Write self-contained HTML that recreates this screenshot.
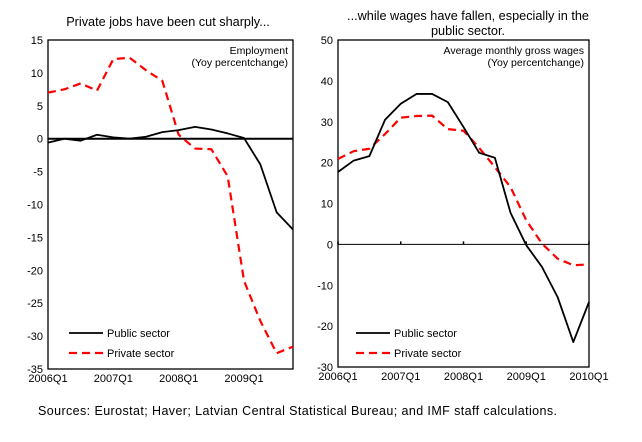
<!DOCTYPE html>
<html><head><meta charset="utf-8"><style>
body{margin:0;background:#fff;}
svg{display:block;font-family:"Liberation Sans",Arial,sans-serif;}
</style></head><body>
<svg id="c" width="642" height="442" viewBox="0 0 642 442">
<text x="168" y="26" text-anchor="middle" font-size="12.7">Private jobs have been cut sharply...</text>
<text x="468" y="20" text-anchor="middle" font-size="12.7">...while wages have fallen, especially in the</text>
<text x="468" y="35" text-anchor="middle" font-size="12.7">public sector.</text>
<text x="38" y="415" font-size="12.5" textLength="519" lengthAdjust="spacing">Sources: Eurostat; Haver; Latvian Central Statistical Bureau; and IMF staff calculations.</text>
<g id="left"></g>
<g id="right"></g>
</svg>
<script>
const empQuarters = ["2006Q1","2006Q2","2006Q3","2006Q4","2007Q1","2007Q2","2007Q3","2007Q4","2008Q1","2008Q2","2008Q3","2008Q4","2009Q1","2009Q2","2009Q3","2009Q4"];
const empPublic = [-0.6,0,-0.3,0.6,0.2,0,0.3,1.0,1.3,1.8,1.4,0.8,0.1,-3.9,-11.2,-13.8];
const empPrivate = [7.0,7.5,8.4,7.3,12.1,12.3,10.4,8.8,0.6,-1.5,-1.6,-5.7,-21.6,-27.7,-32.6,-31.6];
const empYTicks = [15,10,5,0,-5,-10,-15,-20,-25,-30,-35];
const empXLabels = ["2006Q1","2007Q1","2008Q1","2009Q1"];
const wageQuarters = ["2006Q1","2006Q2","2006Q3","2006Q4","2007Q1","2007Q2","2007Q3","2007Q4","2008Q1","2008Q2","2008Q3","2008Q4","2009Q1","2009Q2","2009Q3","2009Q4","2010Q1"];
const wagePublic = [17.7,20.5,21.6,30.5,34.4,36.8,36.8,34.8,28.7,22.4,21.2,7.7,-0.2,-5.5,-12.9,-23.9,-14.1];
const wagePrivate = [20.9,22.8,23.4,27.0,31.0,31.4,31.5,28.2,27.8,23.6,18.9,14.0,5.9,0.2,-3.5,-5.1,-4.9];
const wageYTicks = [50,40,30,20,10,0,-10,-20,-30];
const wageXLabels = ["2006Q1","2007Q1","2008Q1","2009Q1","2010Q1"];

const NS="http://www.w3.org/2000/svg";
function mk(p,t,a){const e=document.createElementNS(NS,t);for(const k in a)e.setAttribute(k,a[k]);p.appendChild(e);return e;}

function panel(g,cfg){
  const {x0,x1,y0,y1,vmax,vmin,quarters,pub,priv,yt,xl,note,legY,legX}=cfg;
  const n=quarters.length;
  const X=i=>x0+(x1-x0)*i/(n-1);
  const Y=v=>y0+(vmax-v)*(y1-y0)/(vmax-vmin);
  let r=mk(g,'rect',{x:x0,y:y0,width:x1-x0,height:y1-y0,fill:'none',stroke:'#000','stroke-width':1.3});
  
  
  yt.forEach(v=>{
    const t=mk(g,'text',{x:x0-5,y:Y(v)+4,'text-anchor':'end','font-size':11});
    t.textContent=v;
    
    
  });
  xl.forEach(l=>{
    const i=quarters.indexOf(l);
    const t=mk(g,'text',{x:X(i),y:y1+13,'text-anchor':'middle','font-size':11});
    t.textContent=l;
    
    
    if(cfg.ticks){
      const tk=mk(g,'line',{x1:X(i),x2:X(i),y1:Y(0),y2:Y(0)-3,stroke:'#000','stroke-width':1.5});
      
      
    }
  });
  const z=mk(g,'line',{x1:x0,x2:x1,y1:Y(0),y2:Y(0),stroke:'#000','stroke-width':cfg.zw});
  
  
  const pp=mk(g,'polyline',{points:priv.map((v,i)=>X(i)+','+Y(v)).join(' '),fill:'none',stroke:'#ff0000','stroke-width':2.2,'stroke-dasharray':'8,5','stroke-linejoin':'round'});
  
  
  const pl=mk(g,'polyline',{points:pub.map((v,i)=>X(i)+','+Y(v)).join(' '),fill:'none',stroke:'#000','stroke-width':1.8,'stroke-linejoin':'round'});
  
  
  note.forEach((s,k)=>{
    const t=mk(g,'text',{x:x1-5,y:y0+14+k*12,'text-anchor':'end','font-size':10.5});
    t.textContent=s;
    
    
  });
  const l1=mk(g,'line',{x1:legX,x2:legX+34,y1:legY,y2:legY,stroke:'#000','stroke-width':1.8});
  
  
  const t1=mk(g,'text',{x:legX+38,y:legY+4,'font-size':11});t1.textContent='Public sector';
  
  
  const l2=mk(g,'line',{x1:legX,x2:legX+34,y1:legY+20,y2:legY+20,stroke:'#ff0000','stroke-width':2.2,'stroke-dasharray':'8,5'});
  
  
  const t2=mk(g,'text',{x:legX+38,y:legY+24,'font-size':11});t2.textContent='Private sector';
  
  
}
panel(document.getElementById('left'),{x0:48,x1:293,y0:40,y1:369,vmax:15,vmin:-35,quarters:empQuarters,pub:empPublic,priv:empPrivate,yt:empYTicks,xl:empXLabels,note:['Employment','(Yoy percentchange)'],legX:69,legY:333,zw:2,ticks:false});
panel(document.getElementById('right'),{x0:338,x1:589,y0:40,y1:367,vmax:50,vmin:-30,quarters:wageQuarters,pub:wagePublic,priv:wagePrivate,yt:wageYTicks,xl:wageXLabels,note:['Average monthly gross wages','(Yoy percentchange)'],legX:356,legY:333,zw:1,ticks:true});
</script>
</body></html>
